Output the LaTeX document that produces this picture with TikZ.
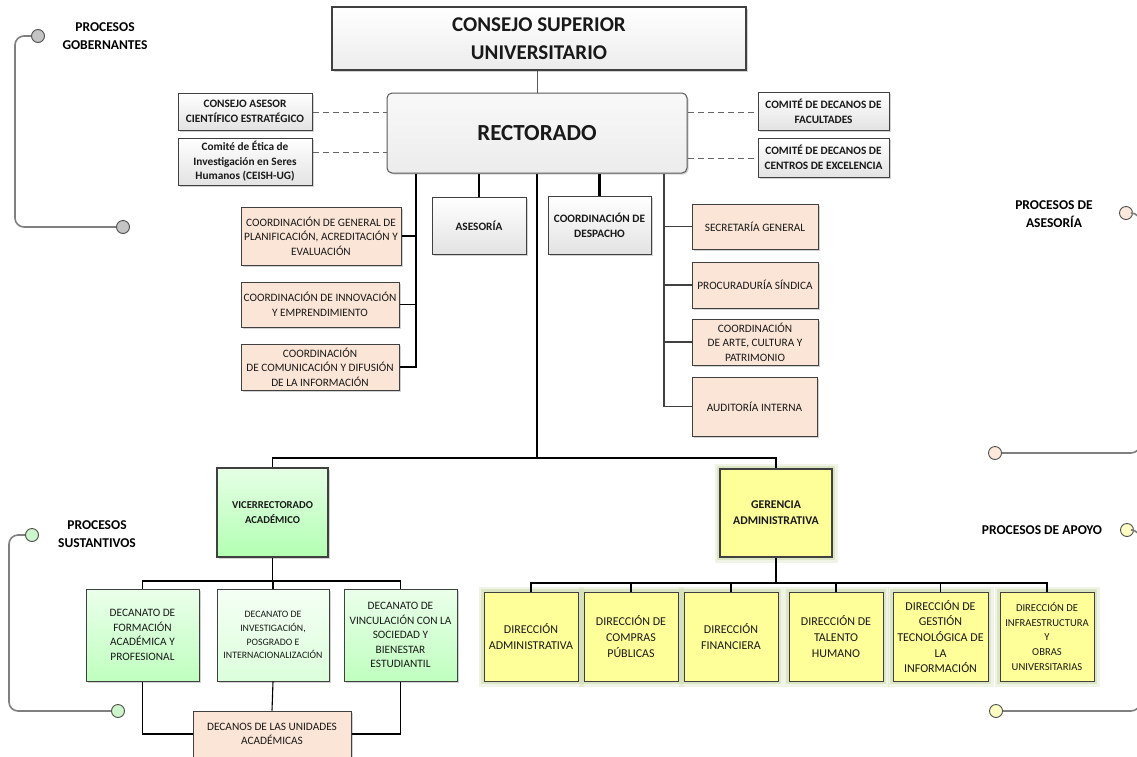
\documentclass[tikz,border=0pt]{standalone}
\usepackage{fontspec}
\setmainfont{Carlito}
\usetikzlibrary{shadows,calc}
\definecolor{peach}{HTML}{FBE5D6}
\definecolor{bordc}{HTML}{404040}
\definecolor{yel}{HTML}{FFFF99}
\definecolor{glowc}{HTML}{C5D79E}
\definecolor{brk}{HTML}{7F7F7F}
\definecolor{cgray}{HTML}{C4C4C4}
\definecolor{cpeach}{HTML}{FDE9DC}
\definecolor{cgreen}{HTML}{CCF5CC}
\definecolor{cyel}{HTML}{FFFFC4}
\newcommand\fsA{\fontsize{11.3}{14.6}\selectfont}
\newcommand\fsB{\fontsize{9.8}{13.7}\selectfont}
\newcommand\fsC{\fontsize{12}{15.7}\selectfont}
\newcommand\fsD{\fontsize{10.6}{14.7}\selectfont}
\newcommand\fsL{\fontsize{13.5}{18}\selectfont}
\tikzset{
  box/.style={rectangle, draw=bordc, line width=1pt, inner sep=1pt, align=center, text=black!90},
  shad/.style={drop shadow={shadow xshift=1.5pt, shadow yshift=-1.5pt, opacity=0.35}},
  gbox/.style={box, shad, top color=white, bottom color=gray!22, font=\bfseries\fsA},
  pbox/.style={box, shad, fill=peach, font=\fsA},
  grbox/.style={box, shad, top color=green!8, bottom color=green!25, font=\fsA},
  glow/.style={preaction={draw=glowc, line width=11pt, opacity=0.25},
               preaction={draw=glowc, line width=6pt, opacity=0.45}},
  ybox/.style={box, glow, fill=yel, font=\fsC},
  conn/.style={draw=black, line width=1.1pt},
  thickconn/.style={draw=black, line width=2.3pt},
  dashconn/.style={draw=gray!80!black, line width=1pt, dashed, dash pattern=on 6pt off 4pt},
  brack/.style={draw=brk, line width=1.6pt, rounded corners=9pt},
  pcirc/.style={circle, draw=gray!60!black, line width=0.9pt, minimum size=13pt, inner sep=0pt},
  plabel/.style={font=\bfseries\fsL, align=center, text=black}
}
\begin{document}
\begin{tikzpicture}[x=1pt,y=-1pt]
\useasboundingbox (0,0) rectangle (1137,756);
\clip (0,0) rectangle (1137,756);
\fill[white] (0,0) rectangle (1137,756);

% ---------- side brackets ----------
\node[pcirc, fill=cgray] (g1) at (38,36) {};
\node[pcirc, fill=cgray] (g2) at (123,227) {};
\node[plabel] (gl) at (105,36) {PROCESOS\\GOBERNANTES};
\draw[brack] (g1.west) -- (15,36) -- (15,227) -- (g2.west);

\node[pcirc, fill=cpeach] (a1) at (1126,213) {};
\node[pcirc, fill=cpeach] (a2) at (995,453) {};
\node[plabel] (al) at (1054,214) {PROCESOS DE\\ASESORÍA};
\draw[brack] (a1.east) -- (1140,213) -- (1140,453) -- (a2.east);

\node[pcirc, fill=cgreen] (s1) at (32,535) {};
\node[pcirc, fill=cgreen] (s2) at (118,711) {};
\node[plabel] (sl) at (97,534) {PROCESOS\\SUSTANTIVOS};
\draw[brack] (s1.west) -- (9,535) -- (9,711) -- (s2.west);

\node[pcirc, fill=cyel] (p1) at (1127,530) {};
\node[pcirc, fill=cyel] (p2) at (996,711) {};
\node[plabel] (pl) at (1042,530) {PROCESOS DE APOYO};
\draw[brack] (p1.east) -- (1140,530) -- (1140,711) -- (p2.east);

% ---------- top ----------
\node[box, shad, line width=1.8pt, top color=white, bottom color=gray!15, minimum width=414, minimum height=63,
      font=\bfseries\fontsize{21}{28}\selectfont] (cons) at (539,38.5) {CONSEJO SUPERIOR\\UNIVERSITARIO};
\node[box, shad, draw=gray!70!black, rounded corners=5pt, top color=gray!5, bottom color=gray!15,
      minimum width=300, minimum height=80, font=\bfseries\fontsize{23}{28}\selectfont] (rect) at (537,133) {RECTORADO};
\draw[conn, line width=0.9pt, draw=gray!70!black] (rect.north) -- (rect.north |- cons.south);

\node[gbox, minimum width=134, minimum height=37] (ases) at (245,111.5) {CONSEJO ASESOR\\CIENTÍFICO ESTRATÉGICO};
\node[gbox, minimum width=134, minimum height=47] (etica) at (245,161.5) {Comité de Ética de\\Investigación en Seres\\Humanos (CEISH-UG)};
\node[gbox, minimum width=131, minimum height=38] (fac) at (823.5,111) {COMITÉ DE DECANOS DE\\FACULTADES};
\node[gbox, minimum width=131, minimum height=39] (cen) at (823.5,157.5) {COMITÉ DE DECANOS DE\\CENTROS DE EXCELENCIA};

\coordinate (yA) at (0,112);
\coordinate (yB) at (0,152);
\coordinate (yC) at (0,158);
\draw[dashconn] (ases.east |- yA) -- (rect.west |- yA);
\draw[dashconn] (etica.east |- yB) -- (rect.west |- yB);
\draw[dashconn] (rect.east |- yA) -- (fac.west |- yA);
\draw[dashconn] (rect.east |- yC) -- (cen.west |- yC);

% ---------- staff ----------
\node[gbox, minimum width=94, minimum height=57] (ase) at (479,225.5) {ASESORÍA};
\node[gbox, minimum width=103, minimum height=58] (desp) at (599.5,225) {COORDINACIÓN DE\\DESPACHO};
\draw[thickconn] (ase.north) -- (ase.north |- rect.south);
\draw[thickconn] (desp.north) -- (desp.north |- rect.south);

\node[pbox, minimum width=160, minimum height=58] (c1) at (321,236) {COORDINACIÓN DE GENERAL DE\\PLANIFICACIÓN, ACREDITACIÓN Y\\EVALUACIÓN};
\node[pbox, minimum width=158, minimum height=45] (c2) at (320,304.5) {COORDINACIÓN DE INNOVACIÓN\\Y EMPRENDIMIENTO};
\node[pbox, minimum width=158, minimum height=46] (c3) at (320,367) {COORDINACIÓN\\DE COMUNICACIÓN Y DIFUSIÓN\\DE LA INFORMACIÓN};
\coordinate (LB) at (416,0);
\draw[conn] (LB |- rect.south) -- (LB |- c3.east) -- (c3.east);
\draw[conn] (LB |- c1.east) -- (c1.east);
\draw[conn] (LB |- c2.east) -- (c2.east);

\node[pbox, minimum width=126, minimum height=45] (r1) at (755,226.5) {SECRETARÍA GENERAL};
\node[pbox, minimum width=126, minimum height=46] (r2) at (755,285) {PROCURADURÍA SÍNDICA};
\node[pbox, minimum width=126, minimum height=46] (r3) at (755,342) {COORDINACIÓN\\DE ARTE, CULTURA Y\\PATRIMONIO};
\node[pbox, minimum width=125, minimum height=59] (r4) at (754.5,406.5) {AUDITORÍA INTERNA};
\coordinate (RB) at (664,0);
\draw[conn, draw=bordc] (RB |- rect.south) -- (RB |- r4.west) -- (r4.west);
\draw[conn, draw=bordc] (RB |- r1.west) -- (r1.west);
\draw[conn, draw=bordc] (RB |- r2.west) -- (r2.west);
\draw[conn, draw=bordc] (RB |- r3.west) -- (r3.west);

% ---------- second level ----------
\node[box, shad, line width=2pt, top color=green!10, bottom color=green!30, minimum width=111, minimum height=89,
      font=\bfseries\fontsize{10.6}{15}\selectfont] (vic) at (272.5,512.5) {VICERRECTORADO\\ACADÉMICO};
\node[box, glow, line width=2pt, fill=yel, minimum width=112, minimum height=88,
      font=\bfseries\fontsize{11.8}{16.3}\selectfont] (ger) at (776,513) {GERENCIA\\ADMINISTRATIVA};
\coordinate (T1) at (0,458);
\draw[conn] (rect.south) -- (rect.south |- T1);
\draw[conn] (vic.north) -- (vic.north |- T1) -- (ger.north |- T1) -- (ger.north);

% ---------- academic ----------
\node[grbox, minimum width=113, minimum height=92] (d1) at (142.5,635) {DECANATO DE\\FORMACIÓN\\ACADÉMICA Y\\PROFESIONAL};
\node[box, shad, top color=green!4, bottom color=green!14, font=\fsB, minimum width=112, minimum height=92] (d2) at (273,635) {DECANATO DE\\INVESTIGACIÓN,\\POSGRADO E\\INTERNACIONALIZACIÓN};
\node[grbox, minimum width=113, minimum height=92] (d3) at (400.5,635) {DECANATO DE\\VINCULACIÓN CON LA\\SOCIEDAD Y\\BIENESTAR\\ESTUDIANTIL};
\node[pbox, minimum width=158, minimum height=46] (dec) at (272,734) {DECANOS DE LAS UNIDADES\\ACADÉMICAS};
\coordinate (T2) at (0,581);
\draw[conn] (vic.south) -- (vic.south |- T2);
\draw[conn] (d1.north) -- (d1.north |- T2) -- (d3.north |- T2) -- (d3.north);
\draw[conn] (d2.north) -- (d2.north |- T2);
\draw[conn] (d1.south) -- (d1.south |- dec.west) -- (dec.west);
\draw[conn] (d3.south) -- (d3.south |- dec.east) -- (dec.east);
\draw[conn] (d2.south) -- (dec.north);

% ---------- administrative ----------
\node[ybox, minimum width=94, minimum height=89] (e1) at (531,636.5) {DIRECCIÓN\\ADMINISTRATIVA};
\node[ybox, minimum width=94, minimum height=89] (e2) at (631,636.5) {DIRECCIÓN DE\\COMPRAS\\PÚBLICAS};
\node[ybox, minimum width=94, minimum height=89] (e3) at (731,636.5) {DIRECCIÓN\\FINANCIERA};
\node[ybox, minimum width=94, minimum height=89] (e4) at (836,636.5) {DIRECCIÓN DE\\TALENTO\\HUMANO};
\node[ybox, minimum width=95, minimum height=89] (e5) at (940.5,636.5) {DIRECCIÓN DE\\GESTIÓN\\TECNOLÓGICA DE\\LA\\INFORMACIÓN};
\node[ybox, minimum width=94, minimum height=89, font=\fsD] (e6) at (1047,636.5) {DIRECCIÓN DE\\INFRAESTRUCTURA\\Y\\OBRAS\\UNIVERSITARIAS};
\coordinate (T3) at (0,583);
\draw[conn] (ger.south) -- (ger.south |- T3);
\draw[conn] (e1.north) -- (e1.north |- T3) -- (e6.north |- T3) -- (e6.north);
\foreach \n in {e2,e3,e4,e5} \draw[conn] (\n.north) -- (\n.north |- T3);
\end{tikzpicture}
\end{document}
